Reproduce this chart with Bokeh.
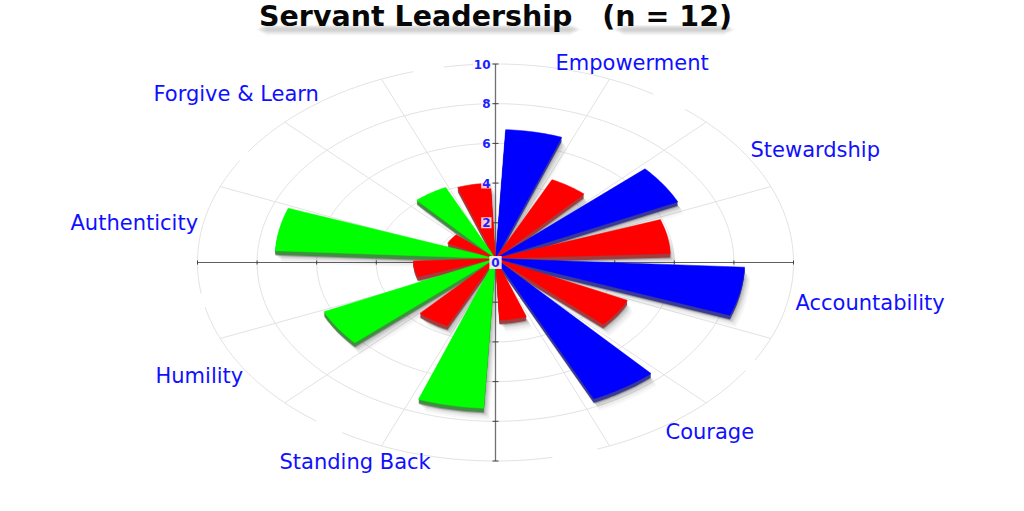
import math
from bokeh.plotting import figure
from bokeh.models import Label
from bokeh.embed import file_html
from bokeh.resources import INLINE

# ---- data ----
title_text = "Servant Leadership\u00a0\u00a0\u00a0(n = 12)"
categories = ["Empowerment", "Stewardship", "Accountability", "Courage",
              "Standing Back", "Humility", "Authenticity", "Forgive & Learn"]
values = [6.5, 4.4, 6.75, 5.87, 8.37, 4.9, 7.8, 3.1,
          7.55, 3.75, 6.35, 2.76, 7.4, 1.78, 3.95, 3.8]
colors = ["#0000ff", "#ff0000", "#0000ff", "#ff0000", "#0000ff", "#ff0000", "#0000ff", "#ff0000",
          "#00ff00", "#ff0000", "#00ff00", "#ff0000", "#00ff00", "#ff0000", "#00ff00", "#ff0000"]
side_colors = {"#0000ff": "#3a3a96", "#ff0000": "#a33c3c", "#00ff00": "#3f8f3f"}
ticks = [2, 4, 6, 8, 10]

# ---- layout (page pixels) ----
W, H = 1024, 511
CX, CY = 495, 262          # axis centre
FACE_CY = 258              # apex of the bars' top face
SX, SY = 29.8, 19.85       # pixels per unit
label_left = [555, 750, 795, 665, 279, 155, 70, 153]
label_mid = [62, 149, 302, 431, 461, 375, 222, 93]
ring_gaps = [(32, 39.5), (119.5, 123), (160, 169), (211, 217), (257, 261), (301, 304), (344, 350)]
BAR_FROM, BAR_TO = 3.0, 20.0

p = figure(width=W, height=H, output_backend="svg", toolbar_location=None,
           x_range=(-CX / SX, (W - CX) / SX), y_range=(-(H - CY) / SY, CY / SY),
           min_border=0, outline_line_color=None, background_fill_color="white",
           border_fill_color="white")
p.margin = (0, 0, 0, 0)
p.axis.visible = False
p.grid.visible = False


def polar(r, deg):
    a = math.radians(deg)
    return r * math.sin(a), r * math.cos(a)


def arc(r, a0, a1, step=1.0):
    n = max(2, int(abs(a1 - a0) / step) + 1)
    pts = [polar(r, a0 + (a1 - a0) * i / (n - 1)) for i in range(n)]
    return [q[0] for q in pts], [q[1] for q in pts]


# rings with the gaps that the labels left
GRID = "#e2e2e2"
for t in ticks:
    gaps = ring_gaps if t == 10 else []
    edges = [0] + [e for g in gaps for e in g] + [360]
    for i in range(0, len(edges), 2):
        xs, ys = arc(t, edges[i], edges[i + 1])
        p.line(xs, ys, line_color=GRID, line_width=1)

# spokes
for k in range(16):
    if k % 4:
        x, y = polar(10, k * 22.5)
        p.line([0, x], [0, y], line_color=GRID, line_width=1)

# axes
p.line([-10, 10], [0, 0], line_color="#606060", line_width=1)
p.line([0, 0], [-10, 10], line_color="#707070", line_width=1.3)
for t in ticks:
    for s in (-1, 1):
        p.line([s * t, s * t], [-2 / SY, 2 / SY], line_color="#404040", line_width=1)
        p.line([-3 / SX, 3 / SX], [s * t, s * t], line_color="#404040", line_width=1)


def wedge(v, k, dx=0.0, dy=0.0):
    a0 = k * 22.5 + BAR_FROM
    a1 = k * 22.5 + BAR_TO
    xs, ys = arc(v, a0, a1)
    base = (CY - FACE_CY) / SY
    return [0 + dx / SX] + [x + dx / SX for x in xs], [base - dy / SY] + [y + base - dy / SY for y in ys]


# soft shadows
for k, v in enumerate(values):
    for dx, dy, al in [(0, 5, .25), (1, 5, .13), (2, 6, .10), (3, 7, .08), (4, 8, .06), (5, 10, .05), (6, 12, .04)]:
        xs, ys = wedge(v, k, dx, dy)
        p.patch(xs, ys, fill_color="#404040", fill_alpha=al, line_color=None)

# extruded sides, then top faces
for k, v in enumerate(values):
    for d in (1, 2, 3, 4):
        xm, ym = wedge(v, k, 0, d)
        p.patch(xm, ym, fill_color=side_colors[colors[k]], line_color=None)
for k, v in enumerate(values):
    xt, yt = wedge(v, k)
    p.patch(xt, yt, fill_color=colors[k], line_color=colors[k], line_width=0.5)

# soft band under the title, one stretch per part of the title
for x0, x1 in [(258, 578), (615, 732)]:
    for inset, top, bot, al in [(0, 27, 31, .05), (2, 26, 32, .05), (4, 25, 33, .04),
                                (6, 25, 34, .04), (8, 25, 35, .03), (-3, 28, 30, .03)]:
        p.quad(left=(x0 + inset - CX) / SX, right=(x1 - inset - CX) / SX,
               top=(CY - top) / SY, bottom=(CY - bot) / SY,
               fill_color="#303030", fill_alpha=al, line_color=None)

# radial tick labels
for t in ticks:
    p.add_layout(Label(x=0, y=t, text=str(t), x_offset=-4, y_offset=0,
                       text_align="right", text_baseline="middle",
                       text_font="DejaVu Sans", text_font_style="bold", text_font_size="12px",
                       text_color="#2020ff", padding=1,
                       background_fill_color="white", background_fill_alpha=0.78))
p.add_layout(Label(x=0, y=0, text="0", text_align="center", text_baseline="middle",
                   text_font="DejaVu Sans", text_font_style="bold", text_font_size="12px",
                   text_color="#2020ff", padding=2,
                   background_fill_color="white", background_fill_alpha=0.85))

# category labels
for name, lx, ly in zip(categories, label_left, label_mid):
    p.add_layout(Label(x=(lx - CX) / SX, y=(CY - ly) / SY, text=name,
                       text_align="left", text_baseline="middle",
                       text_font="DejaVu Sans", text_font_size="21px", text_color="#1010ff"))

# title
p.add_layout(Label(x=(495 - CX) / SX, y=(CY - 16) / SY, text=title_text,
                   text_align="center", text_baseline="middle",
                   text_font="DejaVu Sans", text_font_style="bold",
                   text_font_size="28.5px", text_color="#080808"))

open("out.html", "w").write(file_html(p, INLINE))
